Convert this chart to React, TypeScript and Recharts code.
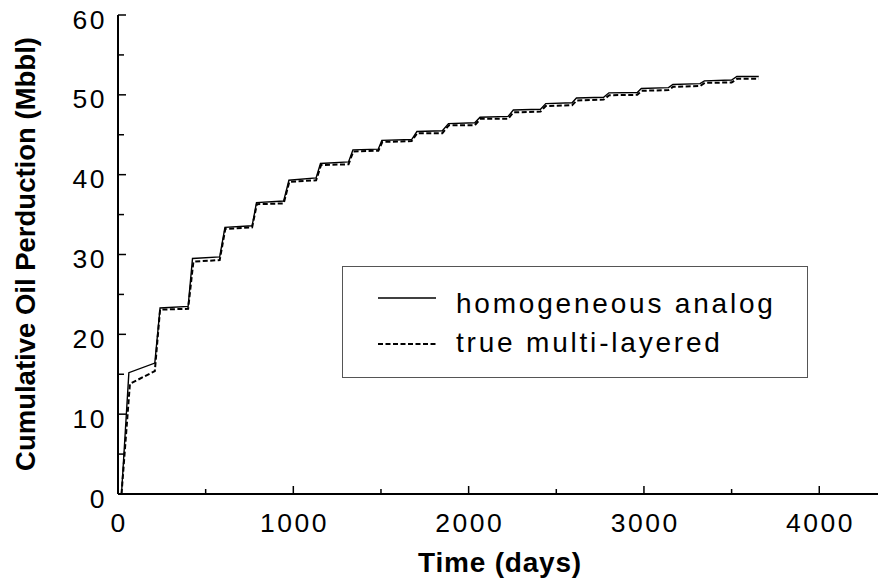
import React from "react";
import { LineChart, Line, XAxis, YAxis, Legend } from "recharts";

const homogeneousDays = [20, 62, 210, 240, 400, 425, 580, 610, 765, 790, 945, 975, 1130, 1155, 1315, 1340, 1485, 1505, 1675, 1705, 1850, 1885, 2035, 2065, 2225, 2255, 2410, 2440, 2590, 2615, 2770, 2800, 2962, 2985, 3140, 3165, 3320, 3345, 3500, 3530, 3655];
const homogeneousOil = [0, 15.2, 16.4, 23.3, 23.5, 29.5, 29.7, 33.4, 33.6, 36.5, 36.7, 39.3, 39.6, 41.4, 41.6, 43.1, 43.2, 44.3, 44.4, 45.4, 45.5, 46.4, 46.5, 47.2, 47.3, 48.1, 48.2, 48.9, 49.0, 49.6, 49.7, 50.25, 50.3, 50.8, 50.9, 51.3, 51.4, 51.75, 51.85, 52.3, 52.3];

const layeredDays = [20, 68, 210, 240, 400, 430, 580, 612, 765, 792, 945, 977, 1130, 1158, 1315, 1342, 1485, 1508, 1675, 1707, 1850, 1888, 2035, 2068, 2225, 2255, 2410, 2440, 2590, 2617, 2770, 2802, 2962, 2987, 3140, 3166, 3320, 3347, 3500, 3532, 3655];
const layeredOil = [0, 13.8, 15.4, 23.1, 23.2, 29.1, 29.3, 33.2, 33.4, 36.3, 36.4, 39.1, 39.3, 41.2, 41.3, 42.9, 43.0, 44.1, 44.2, 45.2, 45.2, 46.2, 46.2, 47.0, 47.0, 47.8, 47.9, 48.6, 48.7, 49.3, 49.4, 49.95, 50.0, 50.5, 50.6, 51.0, 51.1, 51.5, 51.55, 52.0, 52.0];

const xTicks = [0, 500, 1000, 1500, 2000, 2500, 3000, 3500, 4000];
const yTicks = [0, 5, 10, 15, 20, 25, 30, 35, 40, 45, 50, 55, 60];
const seriesNames = ["homogeneous analog", "true multi-layered"];
const xTitle = "Time (days)";
const yTitle = "Cumulative Oil Perduction (Mbbl)";

const homogeneousData = homogeneousDays.map((d, i) => ({ day: d, oil: homogeneousOil[i] }));
const layeredData = layeredDays.map((d, i) => ({ day: d, oil: layeredOil[i] }));

const FONT = "'Liberation Sans', Arial, Helvetica, sans-serif";

const XTick = (props: any) => {
  const { x, y, payload } = props;
  const major = payload.value % 1000 === 0;
  return (
    <g>
      <line x1={x} x2={x} y1={y} y2={y - (major ? 8 : 5)} stroke="#000" strokeWidth={1.5} />
      {major && (
        <text x={x + 1.2} y={y + 38.3} textAnchor="middle" fontFamily={FONT} fontSize={26.5} letterSpacing={2.5} fill="#000">
          {payload.value}
        </text>
      )}
    </g>
  );
};

const YTick = (props: any) => {
  const { x, y, payload } = props;
  const major = payload.value % 10 === 0;
  return (
    <g>
      <line x1={x} x2={x + (major ? 8 : 6)} y1={y} y2={y} stroke="#000" strokeWidth={1.5} />
      {major && (
        <text x={x - 11} y={y + 13.5} textAnchor="end" fontFamily={FONT} fontSize={26.5} letterSpacing={2.5} fill="#000">
          {payload.value}
        </text>
      )}
    </g>
  );
};

const XTitle = () => (
  <text x={500} y={571.5} textAnchor="middle" fontFamily={FONT} fontSize={28} fontWeight="bold" letterSpacing={0.8} fill="#000">
    {xTitle}
  </text>
);

const YTitle = () => (
  <text
    x={35}
    y={254}
    transform="rotate(-90 35 254)"
    textAnchor="middle"
    fontFamily={FONT}
    fontSize={27.5}
    fontWeight="bold"
    fill="#000"
  >
    {yTitle}
  </text>
);

const LegendBox = () => (
  <svg width={466} height={112} style={{ display: "block" }}>
    <rect x={0.5} y={0.5} width={465} height={111} fill="#fff" stroke="#555" strokeWidth={1} />
    <line x1={36} x2={94} y1={32} y2={32} stroke="#000" strokeWidth={1.5} />
    <text x={114} y={47} fontFamily={FONT} fontSize={28} letterSpacing={2.8} fill="#000">
      {seriesNames[0]}
    </text>
    <line x1={36} x2={94} y1={78} y2={78} stroke="#000" strokeWidth={2} strokeDasharray="5 2.5" />
    <text x={114} y={86} fontFamily={FONT} fontSize={28} letterSpacing={2.8} fill="#000">
      {seriesNames[1]}
    </text>
  </svg>
);

export default function App() {
  return (
    <div style={{ position: "absolute", left: 0, top: 0, width: 878, height: 579, background: "#fff" }}>
      <LineChart width={878} height={579} margin={{ top: 15, right: 0, bottom: 0, left: 0 }}>
        <XAxis
          dataKey="day"
          type="number"
          domain={[0, 4335]}
          ticks={xTicks}
          interval={0}
          allowDataOverflow
          height={85}
          axisLine={{ stroke: "#000", strokeWidth: 2 }}
          tickLine={false}
          tickSize={0}
          tickMargin={0}
          tick={<XTick />}
          label={{ content: () => <XTitle /> }}
        />
        <YAxis
          dataKey="oil"
          type="number"
          domain={[0, 60]}
          ticks={yTicks}
          interval={0}
          width={118}
          axisLine={{ stroke: "#000", strokeWidth: 2 }}
          tickLine={false}
          tickSize={0}
          tickMargin={0}
          tick={<YTick />}
          label={{ content: () => <YTitle /> }}
        />
        <Legend
          layout="horizontal"
          verticalAlign="middle"
          align="center"
          wrapperStyle={{ left: 342, top: 266, width: 466, height: 112 }}
          content={() => <LegendBox />}
        />
        <Line
          data={homogeneousData}
          dataKey="oil"
          name={seriesNames[0]}
          type="linear"
          stroke="#000"
          strokeWidth={1.4}
          dot={false}
          isAnimationActive={false}
        />
        <Line
          data={layeredData}
          dataKey="oil"
          name={seriesNames[1]}
          type="linear"
          stroke="#000"
          strokeWidth={2}
          strokeDasharray="5 2.5"
          dot={false}
          isAnimationActive={false}
        />
      </LineChart>
    </div>
  );
}
